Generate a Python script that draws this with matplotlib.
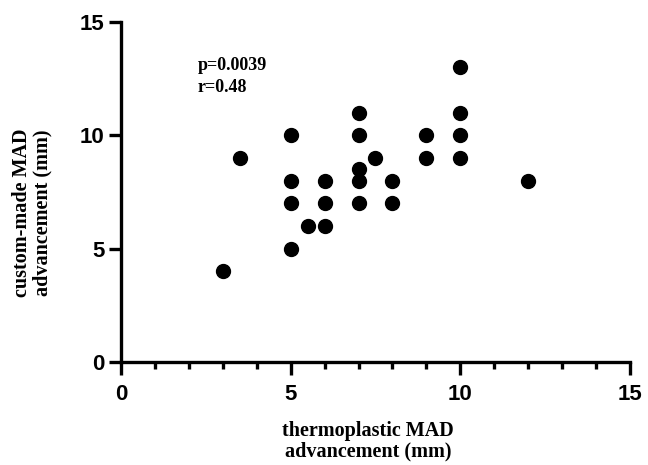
import matplotlib
matplotlib.use("Agg")
from matplotlib import pyplot as plt
from matplotlib.ticker import MultipleLocator

# thermoplastic vs custom-made MAD advancement (mm)
thermoplastic = [3, 3.5, 5, 5, 5, 5, 5.5, 6, 6, 6, 7, 7, 7, 7, 7, 7.5, 8, 8, 9, 9, 10, 10, 10, 10, 12]
custom_made = [4, 9, 10, 8, 7, 5, 6, 8, 7, 6, 11, 10, 8.5, 8, 7, 9, 8, 7, 10, 9, 13, 11, 10, 9, 8]
stats_text = "p=0.0039\nr=0.48"

fig = plt.figure(figsize=(6.48, 4.65), dpi=100)
ax = fig.add_axes([0.1867, 0.2215, 0.7855, 0.7312])

ax.scatter(thermoplastic, custom_made, s=100, color="black", zorder=3, clip_on=False)

ax.set_xlim(0, 15)
ax.set_ylim(0, 15)
ax.xaxis.set_major_locator(MultipleLocator(5))
ax.xaxis.set_minor_locator(MultipleLocator(1))
ax.yaxis.set_major_locator(MultipleLocator(5))

for side in ["top", "right"]:
    ax.spines[side].set_visible(False)
for side in ["left", "bottom"]:
    ax.spines[side].set_linewidth(2.4)

ax.tick_params(axis="both", which="major", length=9, width=2.4, labelsize=16)
ax.tick_params(axis="x", which="major", pad=7)
ax.tick_params(axis="y", which="major", pad=3)
ax.tick_params(axis="x", which="minor", length=5, width=2.4)
for lbl in ax.get_xticklabels() + ax.get_yticklabels():
    lbl.set_fontweight("bold")
    lbl.set_fontfamily("Liberation Sans")

serif = dict(family="Liberation Serif", weight="bold", size=14.5)
ax.set_xlabel("thermoplastic MAD\nadvancement (mm)", fontdict=serif, linespacing=1.05)
ax.set_ylabel("custom-made MAD\nadvancement (mm)", fontdict=serif, linespacing=1.05)
ax.xaxis.set_label_coords(0.485, -0.174)
ax.yaxis.set_label_coords(-0.135, 0.438)

ax.text(2.25, 13.45, stats_text, fontdict=dict(family="Liberation Serif", weight="bold", size=13),
        va="top", ha="left", linespacing=1.35)

fig.savefig("out.png", dpi=100)
